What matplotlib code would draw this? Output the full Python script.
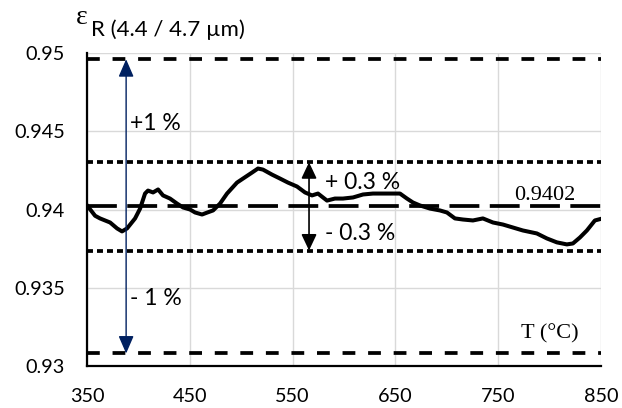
import numpy as np
import matplotlib
matplotlib.use('Agg')
import matplotlib.pyplot as plt

plt.rcParams['font.family'] = ['Lato', 'DejaVu Sans']
plt.rcParams['lines.scale_dashes'] = False

temp = [350, 357.8, 362.6, 372.4, 379.2, 384, 388.9, 396.7, 401.6, 406.4, 409.3,
        414.2, 419.1, 423.9, 430.7, 437.5, 443.4, 450.2, 455.1, 461.9, 466.7,
        472.6, 479.4, 486.2, 495.9, 501.8, 510.5, 516.3, 521.2, 530, 537.7,
        545.5, 554.3, 562.1, 568.9, 574.7, 583.5, 591.2, 599, 608.8, 618.5,
        628.2, 637.9, 647.7, 654.5, 661.3, 667.1, 673.9, 683.7, 693.4, 700.2,
        708, 715.8, 725.5, 735.2, 745, 754.7, 764.4, 774.1, 787.7, 797.5,
        807.2, 816.9, 822.8, 829.6, 836.4, 844.2, 850]
eps = [0.94026, 0.9396, 0.93943, 0.93917, 0.93879, 0.9386, 0.93879, 0.93943,
       0.94006, 0.94102, 0.94121, 0.94109, 0.94128, 0.9409, 0.9407, 0.94038,
       0.94013, 0.940, 0.93981, 0.93968, 0.9398, 0.93994, 0.94038, 0.94102,
       0.94172, 0.94198, 0.94236, 0.94262, 0.94255, 0.94223, 0.94198, 0.94172,
       0.94147, 0.94109, 0.9409, 0.94102, 0.94057, 0.9407, 0.9407, 0.94077,
       0.94096, 0.94102, 0.94102, 0.94102, 0.94102, 0.9407, 0.94045, 0.94026,
       0.94006, 0.93994, 0.93981, 0.93943, 0.93936, 0.9393, 0.93943, 0.93917,
       0.93904, 0.93885, 0.93866, 0.93847, 0.93815, 0.9379, 0.93777, 0.93783,
       0.93821, 0.93866, 0.9393, 0.9394]

mean_val = 0.9402
band_small = 0.003
band_large = 0.01
xticks = [350, 450, 550, 650, 750, 850]
yticks = [0.93, 0.935, 0.94, 0.945, 0.95]
ytick_labels = ['0.93', '0.935', '0.94', '0.945', '0.95']

fig = plt.figure(figsize=(6.22, 4.08), dpi=100)
ax = fig.add_axes([0.140, 0.103, 0.826, 0.767])

ax.set_xlim(350, 850)
ax.set_ylim(0.93, 0.95)
ax.set_xticks(xticks)
ax.set_yticks(yticks)
ax.set_yticklabels(ytick_labels)
ax.grid(True, color='#d9d9d9', lw=1.0)
ax.set_axisbelow(True)
for s in ['top', 'right']:
    ax.spines[s].set_visible(False)
for s in ['left', 'bottom']:
    ax.spines[s].set_linewidth(1.6)
ax.tick_params(length=0, labelsize=14.3)
ax.tick_params(axis='y', pad=16)
ax.tick_params(axis='x', pad=16)

# reference lines
ax.axhline(mean_val, color='black', lw=2.7, dashes=(21.5, 7.5))
ax.axhline(mean_val * (1 + band_small), color='black', lw=2.7, dashes=(4.3, 2.9))
ax.axhline(mean_val * (1 - band_small), color='black', lw=2.7, dashes=(4.3, 2.9))
ax.axhline(mean_val * (1 + band_large), color='black', lw=2.7, dashes=(9.2, 9.2))
ax.axhline(mean_val * (1 - band_large), color='black', lw=2.7, dashes=(9.2, 9.2))

ax.plot(temp, eps, color='black', lw=2.9, solid_joinstyle='round')

# +-1 % arrow
ax.annotate('', xy=(388, mean_val * (1 + band_large)), xytext=(388, mean_val * (1 - band_large)),
            arrowprops=dict(arrowstyle='<|-|>,head_length=0.6,head_width=0.26',
                            color='#002060', lw=1.0, mutation_scale=18,
                            shrinkA=0, shrinkB=0))
ax.text(391.5, 0.94549, '+1 %', fontsize=16.5, va='center', ha='left')
ax.text(391.5, 0.93432, '- 1 %', fontsize=16.5, va='center', ha='left')

# +-0.3 % arrow
for sign in (1, -1):
    ax.annotate('', xy=(566, mean_val * (1 + sign * band_small)), xytext=(566, mean_val),
                arrowprops=dict(arrowstyle='-|>,head_length=0.55,head_width=0.26',
                                color='black', lw=1.2, mutation_scale=18,
                                shrinkA=0, shrinkB=0))
ax.text(582, 0.94172, '+ 0.3 %', fontsize=16.5, va='center', ha='left')
ax.text(582, 0.93847, '- 0.3 %', fontsize=16.5, va='center', ha='left')

ax.text(795.5, 0.94089, '0.9402', fontsize=16, va='center', ha='center',
        family='Liberation Serif')
ax.text(800, 0.93208, 'T (°C)', fontsize=16, va='center', ha='center',
        family='Liberation Serif')

# y axis title
fig.text(76 / 622, 1 - 17 / 408, 'ε', fontsize=20, family='Liberation Serif',
         va='center', ha='left')
fig.text(91 / 622, 1 - 30 / 408, 'R (4.4 / 4.7 µm)', fontsize=16, va='center', ha='left')

plt.savefig('out.png', dpi=100)
